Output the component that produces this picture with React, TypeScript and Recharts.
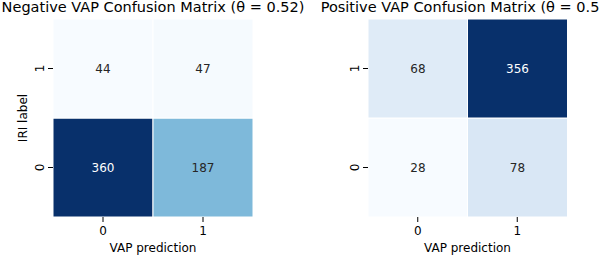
import { Bar, BarChart, Cell, LabelList, XAxis, YAxis } from "recharts";

// columns of each matrix = VAP prediction, rows = IRI label
const predictions = ["0", "1"];
const negIri0 = [360, 187];
const negIri1 = [44, 47];
const posIri0 = [28, 78];
const posIri1 = [68, 356];
const negTitle = "Negative VAP Confusion Matrix (θ = 0.52)";
const posTitle = "Positive VAP Confusion Matrix (θ = 0.52)";

const FONT = "DejaVu Sans, sans-serif";

// matplotlib "Blues"
const BLUES = ["#f7fbff", "#deebf7", "#c6dbef", "#9ecae1", "#6baed6", "#4292c6", "#2171b5", "#08519c", "#08306b"];

function hexRgb(h: string) {
  return [1, 3, 5].map((i) => parseInt(h.slice(i, i + 2), 16));
}

function blues(t: number) {
  const s = Math.max(0, Math.min(1, t)) * (BLUES.length - 1);
  const i = Math.min(Math.floor(s), BLUES.length - 2);
  const f = s - i;
  const a = hexRgb(BLUES[i]);
  const b = hexRgb(BLUES[i + 1]);
  const c = a.map((v, k) => Math.round(v + (b[k] - v) * f));
  return `rgb(${c[0]},${c[1]},${c[2]})`;
}

function YTick(props: any) {
  const { x, y, payload } = props;
  return (
    <g transform={`translate(${x - 2.5},${y}) rotate(-90)`}>
      <text textAnchor="middle" fontSize={12} fontFamily={FONT} fill="#000">
        {String(Math.floor(payload.value))}
      </text>
    </g>
  );
}

function YTitle(props: any) {
  const vb = props.viewBox || {};
  const cy = vb.y + vb.height / 2;
  return (
    <text
      transform={`translate(27,${cy}) rotate(-90)`}
      textAnchor="middle"
      fontSize={12}
      fontFamily={FONT}
      fill="#000"
    >
      IRI label
    </text>
  );
}

function XTitle(props: any) {
  const vb = props.viewBox || {};
  return (
    <text x={vb.x + vb.width / 2} y={252} textAnchor="middle" fontSize={12} fontFamily={FONT} fill="#000">
      VAP prediction
    </text>
  );
}

function Matrix({
  iri0,
  iri1,
  axisWidth,
  rightMargin,
  showYTitle,
}: {
  iri0: number[];
  iri1: number[];
  axisWidth: number;
  rightMargin: number;
  showYTitle: boolean;
}) {
  const all = [...iri0, ...iri1];
  const lo = Math.min(...all);
  const hi = Math.max(...all);
  const norm = (v: number) => (v - lo) / (hi - lo);
  const data = predictions.map((p, i) => ({ pred: p, r0: 1, r1: 1, c0: iri0[i], c1: iri1[i] }));

  const count = (props: any) => {
    const { x, y, width, height, value } = props;
    return (
      <text
        x={x + width / 2}
        y={y + height / 2}
        textAnchor="middle"
        dominantBaseline="central"
        fontSize={12}
        fontFamily={FONT}
        fill={norm(value) > 0.6 ? "#ffffff" : "#262626"}
      >
        {value}
      </text>
    );
  };

  return (
    <BarChart
      width={300}
      height={256}
      data={data}
      margin={{ top: 19, right: rightMargin, bottom: 0, left: 0 }}
      barCategoryGap={0}
      barGap={0}
    >
      <XAxis
        dataKey="pred"
        axisLine={false}
        tickSize={5}
        tickMargin={4}
        height={39}
        tickLine={{ stroke: "#000" }}
        tick={{ fill: "#000", fontSize: 12, fontFamily: FONT }}
        label={<XTitle />}
      />
      <YAxis
        type="number"
        domain={[0, 2]}
        ticks={[0.5, 1.5]}
        width={axisWidth}
        axisLine={false}
        tickSize={5}
        tickLine={{ stroke: "#000" }}
        tick={<YTick />}
        label={showYTitle ? <YTitle /> : undefined}
      />
      <Bar dataKey="r0" stackId="m" stroke="#fff" strokeWidth={1} isAnimationActive={false}>
        {data.map((d) => (
          <Cell key={d.pred} fill={blues(norm(d.c0))} />
        ))}
        <LabelList dataKey="c0" content={count} />
      </Bar>
      <Bar dataKey="r1" stackId="m" stroke="#fff" strokeWidth={1} isAnimationActive={false}>
        {data.map((d) => (
          <Cell key={d.pred} fill={blues(norm(d.c1))} />
        ))}
        <LabelList dataKey="c1" content={count} />
      </Bar>
    </BarChart>
  );
}

export default function App() {
  return (
    <div
      style={{
        position: "absolute",
        left: 0,
        top: 0,
        width: 600,
        height: 256,
        overflow: "hidden",
        background: "#fff",
      }}
    >
      <div style={{ position: "absolute", left: 0, top: 0 }}>
        <Matrix iri0={negIri0} iri1={negIri1} axisWidth={53} rightMargin={47} showYTitle />
      </div>
      <div style={{ position: "absolute", left: 300, top: 0 }}>
        <Matrix iri0={posIri0} iri1={posIri1} axisWidth={68} rightMargin={33} showYTitle={false} />
      </div>
      <svg
        width={600}
        height={256}
        style={{ position: "absolute", left: 0, top: 0, pointerEvents: "none" }}
      >
        <text x={153} y={12} textAnchor="middle" fontSize={14.5} fontFamily={FONT} fill="#000">
          {negTitle}
        </text>
        <text x={467.5} y={12} textAnchor="middle" fontSize={14.5} fontFamily={FONT} fill="#000">
          {posTitle}
        </text>
      </svg>
    </div>
  );
}
